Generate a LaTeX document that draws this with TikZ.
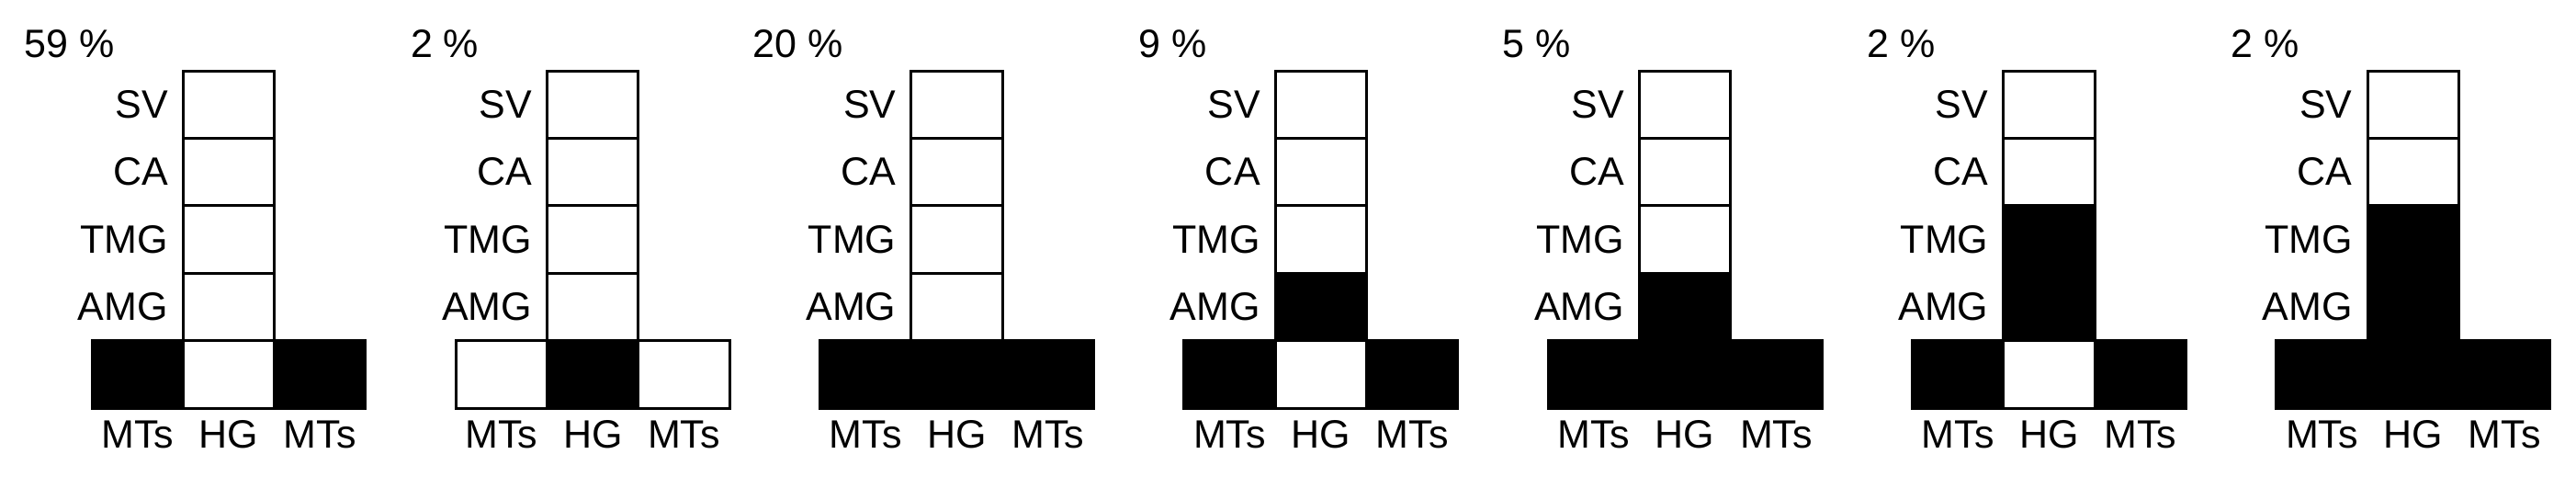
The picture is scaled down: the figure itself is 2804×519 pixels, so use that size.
\documentclass[tikz,border=0pt]{standalone}
\usepackage{fontspec}
\setmainfont{Liberation Sans}
\begin{document}
\begin{tikzpicture}[x=1pt,y=-1pt,
  cell/.style={draw=black,line width=3pt,minimum width=99.3pt,minimum height=73.4pt,inner sep=0pt,outer sep=0pt},
  lbl/.style={inner sep=0pt,font=\fontsize{43}{50}\selectfont}]
\fill[white] (0,0) rectangle (2804,519);
\useasboundingbox (0,0) rectangle (2804,519);
\foreach \i/\pct/\l/\c/\r/\a/\t in {1/59/black/white/black/white/white,
  2/2/white/black/white/white/white,
  3/20/black/black/black/white/white,
  4/9/black/white/black/black/white,
  5/5/black/black/black/black/white,
  6/2/black/white/black/black/black,
  7/2/black/black/black/black/black}{
  \pgfmathsetmacro\xl{100+396.3*(\i-1)}
  \pgfmathsetmacro\xa{\xl+49.65}
  \pgfmathsetmacro\xb{\xl+148.95}
  \pgfmathsetmacro\xc{\xl+248.25}
  \pgfmathsetmacro\xt{\xl+83}
  \pgfmathsetmacro\xp{\xl+25}
  \node[cell,fill=\l] (p\i-l) at (\xa,407.3) {};
  \node[cell,fill=\r] (p\i-r) at (\xc,407.3) {};
  \node[cell,fill=\c] (p\i-hg) at (\xb,407.3) {};
  \node[cell,fill=white] (p\i-sv) at (\xb,113.7) {};
  \node[cell,fill=white] (p\i-ca) at (\xb,187.1) {};
  \node[cell,fill=\t] (p\i-tmg) at (\xb,260.5) {};
  \node[cell,fill=\a] (p\i-amg) at (\xb,333.9) {};
  \node[lbl,anchor=east] (p\i-lsv) at (\xt,113.7) {SV};
  \node[lbl,anchor=east] (p\i-lca) at (\xt,187.1) {CA};
  \node[lbl,anchor=east] (p\i-ltmg) at (\xt,260.5) {TMG};
  \node[lbl,anchor=east] (p\i-lamg) at (\xt,333.9) {AMG};
  \node[lbl,anchor=base] (p\i-ll) at (\xa,487) {MTs};
  \node[lbl,anchor=base] (p\i-lhg) at (\xb,487) {HG};
  \node[lbl,anchor=base] (p\i-lr) at (\xc,487) {MTs};
  \node[lbl,anchor=base east] (p\i-pct) at (\xp,63) {\pct~\%};
}
\end{tikzpicture}
\end{document}
